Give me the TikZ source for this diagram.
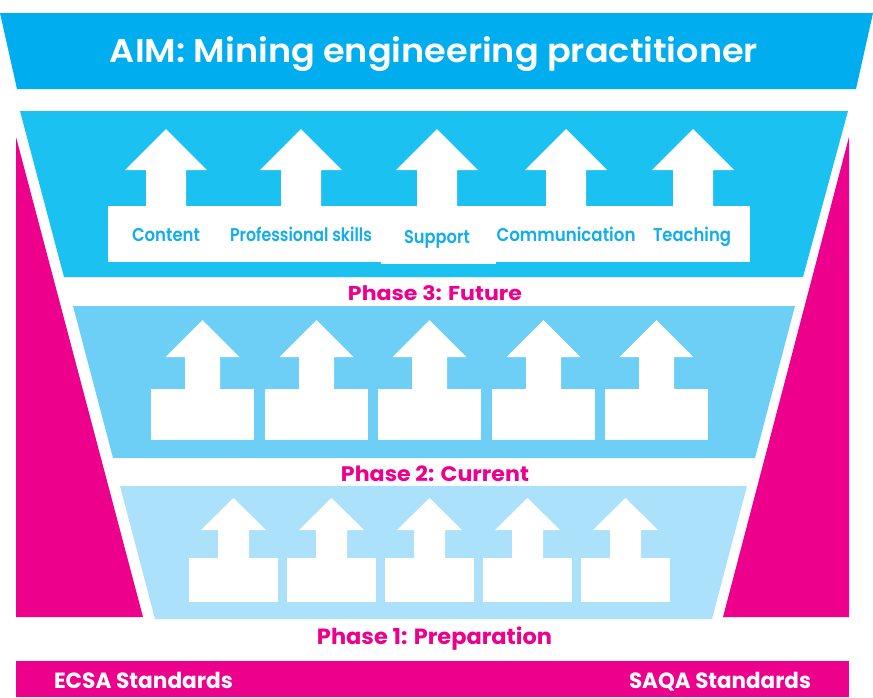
\documentclass[tikz,border=0pt]{standalone}
\usepackage{fontspec}
\setmainfont{Poppins}[FontFace={mb}{n}{Font=Poppins SemiBold}]
\usepackage{graphicx}
\definecolor{bannerblue}{HTML}{00AEEF}
\definecolor{phasethree}{HTML}{1AC1F1}
\definecolor{phasetwo}{HTML}{6DCFF6}
\definecolor{phaseone}{HTML}{ABE1FA}
\definecolor{magentapink}{HTML}{EC008C}
\definecolor{labelblue}{HTML}{12ADEA}
\newcommand{\fittext}[3]{\resizebox{#1}{\height}{\fontsize{#2}{#2}\selectfont\bfseries #3}}
\newcommand{\fitmed}[3]{\resizebox{#1}{\height}{\fontsize{#2}{#2}\fontseries{mb}\selectfont #3}}
\newcommand{\uparr}[6]{%
  \fill[white] (#1,#2) -- ({#1+#5},#3) -- ({#1+#6},#3) -- ({#1+#6},#4) -- ({#1-#6},#4) -- ({#1-#6},#3) -- ({#1-#5},#3) -- cycle;}
\tikzset{
  txt/.style={inner sep=0pt, outer sep=0pt, anchor=base},
  phaselabel/.style={txt, text=magentapink},
  boxlabel/.style={txt, text=labelblue},
  whitelabel/.style={txt, text=white}
}
\begin{document}
\begin{tikzpicture}[x=1pt,y=-1pt]
\useasboundingbox (0,0) rectangle (873,697);
% banner
\fill[bannerblue] (0,13) -- (873,13) -- (856,89) -- (17,89) -- cycle;
\node[whitelabel] (aim) at (434,62) {\fitmed{648pt}{33pt}{AIM: Mining engineering practitioner}};
% side pink shapes
\fill[magentapink] (16,137) -- (143,617) -- (16,617) -- cycle;
\fill[magentapink] (849,137) -- (849,617) -- (723,617) -- cycle;
% phase trapezoids
\fill[phasethree] (20,111) -- (848,111) -- (803,277) -- (64,277) -- cycle;
\fill[phasetwo] (73,306) -- (795,306) -- (755,458) -- (113,458) -- cycle;
\fill[phaseone] (120,486) -- (747,486) -- (712,619) -- (155,619) -- cycle;
% bottom bar
\fill[magentapink] (16,661) rectangle (849,697);
% phase 3 arrows and boxes
\foreach \c in {166,301,437,566,693}{\uparr{\c}{129}{170}{207}{41}{20}}
\fill[white] (108,206) rectangle (750,262);
\fill[white] (381,206) rectangle (496,264);
\node[boxlabel] (content) at (166,241) {\fitmed{68pt}{18.5pt}{Content}};
\node[boxlabel] (profskills) at (301,241) {\fitmed{142pt}{18.5pt}{Professional skills}};
\node[boxlabel] (support) at (437,243) {\fitmed{66pt}{18.5pt}{Support}};
\node[boxlabel] (communication) at (566,241) {\fitmed{139pt}{18.5pt}{Communication}};
\node[boxlabel] (teaching) at (692,241) {\fitmed{78pt}{18.5pt}{Teaching}};
% phase 2 arrows and boxes
\foreach \l in {151,265,378,492,605}{
  \pgfmathsetmacro\c{\l+51.5}
  \uparr{\c}{320}{357}{390}{37}{17.5}
  \fill[white] (\l,389) rectangle ++(103,51);
}
% phase 1 arrows and boxes
\foreach \l in {189,287,385,483,581}{
  \pgfmathsetmacro\c{\l+44.5}
  \uparr{\c}{498}{530}{559}{32.5}{15.5}
  \fill[white] (\l,558) rectangle ++(89,44);
}
% phase labels
\node[phaselabel] (phase3) at (435,300) {\fittext{174pt}{20pt}{Phase 3: Future}};
\node[phaselabel] (phase2) at (435,481) {\fittext{188pt}{21pt}{Phase 2: Current}};
\node[phaselabel] (phase1) at (434.5,644) {\fittext{235pt}{22pt}{Phase 1: Preparation}};
% bottom labels
\node[whitelabel, anchor=base west] (ecsa) at (54,688) {\fittext{179pt}{22pt}{ECSA Standards}};
\node[whitelabel, anchor=base east] (saqa) at (811,688) {\fittext{182pt}{22pt}{SAQA Standards}};
\end{tikzpicture}
\end{document}
